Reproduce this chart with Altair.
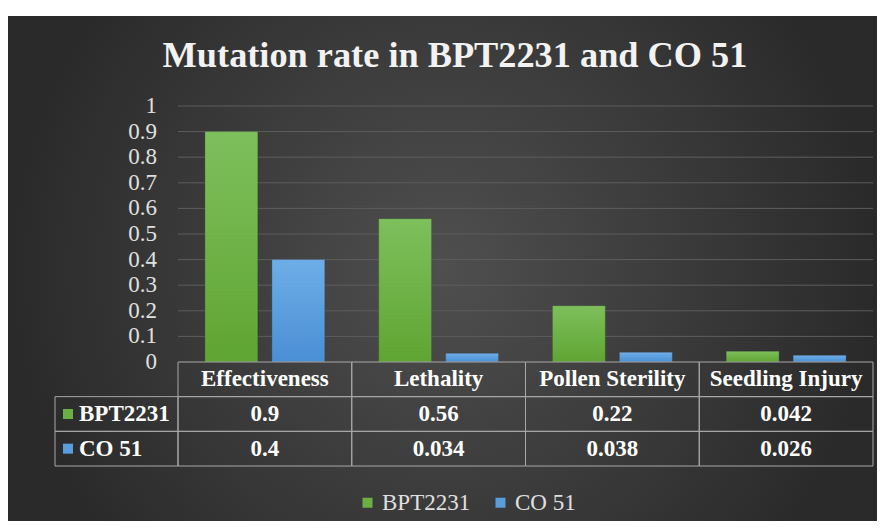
import altair as alt
import pandas as pd

# ---- data ----
categories = ["Effectiveness", "Lethality", "Pollen Sterility", "Seedling Injury"]
series = ["BPT2231", "CO 51"]
bpt2231 = [0.9, 0.56, 0.22, 0.042]
co51 = [0.4, 0.034, 0.038, 0.026]
y_ticks = [0, 0.1, 0.2, 0.3, 0.4, 0.5, 0.6, 0.7, 0.8, 0.9, 1]
y_tick_labels = ["0", "0.1", "0.2", "0.3", "0.4", "0.5", "0.6", "0.7", "0.8", "0.9", "1"]
title_text = "Mutation rate in BPT2231 and CO 51"
colors = ["#6cb043", "#5a9ddc"]
gradients = [("#7dc05c", "#5fa532"), ("#6eaee8", "#4a8fd4")]

# ---- tables built from the arrays ----
records = []
for s, vals in zip(series, [bpt2231, co51]):
    for c, v in zip(categories, vals):
        records.append({"category": c, "series": s, "value": v, "label": str(v)})
df = pd.DataFrame(records)
rows = ["header"] + series
df_cells = pd.DataFrame([{"category": c, "row": r} for r in rows for c in categories])
df_header = pd.DataFrame({"category": categories, "row": ["header"] * len(categories)})
df_series = pd.DataFrame({"series": series})
df_grid = pd.DataFrame({"t": y_ticks[1:]})
df_ticks = pd.DataFrame({"t": y_ticks, "lbl": y_tick_labels})
df_one = pd.DataFrame({"k": [0]})
df_title = pd.DataFrame({"t": [title_text]})

W, H = 695, 256
serif = "Liberation Serif, Times New Roman, serif"
line_col = "#a8a8a8"
txt_col = "#ffffff"
lab_col = "#e0e0e0"

x_bar = alt.X("category:N", scale=alt.Scale(domain=categories, paddingInner=0.31, paddingOuter=0.155), axis=None)
x_off = alt.XOffset("series:N", scale=alt.Scale(domain=series, paddingInner=0.21, paddingOuter=0))
x_tab = alt.X("category:N", scale=alt.Scale(type="band", domain=categories, paddingInner=0, paddingOuter=0), axis=None)
y_val = lambda f: alt.Y(f, scale=alt.Scale(domain=[0, 1]), axis=None)


def y_tab(field):
    return alt.Y(field, scale=alt.Scale(type="band", domain=rows, range=[256, 360],
                                        paddingInner=0, paddingOuter=0), axis=None)


legend = alt.Legend(orient="none", legendX=178, legendY=385, direction="horizontal", title=None,
                    symbolType="square", symbolSize=100, symbolStrokeWidth=0,
                    labelFont=serif, labelFontSize=23, labelColor=lab_col,
                    labelOffset=3, columnPadding=18, padding=0)
color = alt.Color("series:N", scale=alt.Scale(domain=series, range=colors), legend=legend)

bg = alt.Chart(df_one).mark_rect(
    fill=alt.RadialGradient(gradient="radial",
                            stops=[alt.GradientStop(color="#4f4f4f", offset=0),
                                   alt.GradientStop(color="#2a2a2a", offset=1)])
).encode(x=alt.value(-170), x2=alt.value(699), y=alt.value(-90), y2=alt.value(415))

title = alt.Chart(df_title).mark_text(
    align="center", baseline="alphabetic", font=serif, fontSize=36.3, fontWeight="bold", color="#f2f2f2"
).encode(x=alt.value(277), y=alt.value(-39), text="t:N")

grid = alt.Chart(df_grid).mark_rule(color="#5d5d5d", strokeWidth=1).encode(y=y_val("t:Q"))

tick_txt = alt.Chart(df_ticks).mark_text(
    align="right", baseline="middle", font=serif, fontSize=23, color=lab_col
).encode(x=alt.value(-21), y=y_val("t:Q"), text="lbl:N")

bar_layers = []
for s, (top, bot) in zip(series, gradients):
    bar_layers.append(
        alt.Chart(df).transform_filter(alt.datum.series == s).mark_bar(
            fill=alt.LinearGradient(gradient="linear", x1=0, y1=0, x2=0, y2=1,
                                    stops=[alt.GradientStop(color=top, offset=0),
                                           alt.GradientStop(color=bot, offset=1)]),
            stroke="#3a3a3a", strokeWidth=0.5, strokeOpacity=0.6,
        ).encode(x=x_bar, xOffset=x_off, y=y_val("value:Q"))
    )

cells = alt.Chart(df_cells).mark_rect(fillOpacity=0, stroke=line_col, strokeWidth=1).encode(
    x=x_tab, y=y_tab("row:N"))

lab_cells = alt.Chart(df_series).mark_rect(fillOpacity=0, stroke=line_col, strokeWidth=1).encode(
    x=alt.value(-123), x2=alt.value(0), y=y_tab("series:N"))

squares = alt.Chart(df_series).mark_square(size=100, opacity=1).encode(
    x=alt.value(-110), y=y_tab("series:N"), color=color)

row_txt = alt.Chart(df_series).mark_text(
    align="left", baseline="middle", font=serif, fontSize=23, fontWeight="bold", color=txt_col
).encode(x=alt.value(-99), y=y_tab("series:N"), text="series:N")

hdr_txt = alt.Chart(df_header).mark_text(
    align="center", baseline="middle", font=serif, fontSize=23, fontWeight="bold", color=txt_col
).encode(x=x_tab, y=y_tab("row:N"), text="category:N")

val_txt = alt.Chart(df).mark_text(
    align="center", baseline="middle", font=serif, fontSize=23, fontWeight="bold", color=txt_col
).encode(x=x_tab, y=y_tab("series:N"), text="label:N")

chart = alt.layer(
    bg, title, grid, tick_txt, *bar_layers, cells, lab_cells, squares, row_txt, hdr_txt, val_txt
).resolve_scale(
    x="independent", y="independent"
).properties(
    width=W, height=H,
    padding={"left": 0, "top": 8, "right": 0, "bottom": 0},
    background="white",
).configure_view(
    stroke=None
).configure_legend(
    labelFont=serif, labelFontSize=23, labelColor=lab_col
)

chart.save("out.html", embed_options={"renderer": "svg", "actions": False})
